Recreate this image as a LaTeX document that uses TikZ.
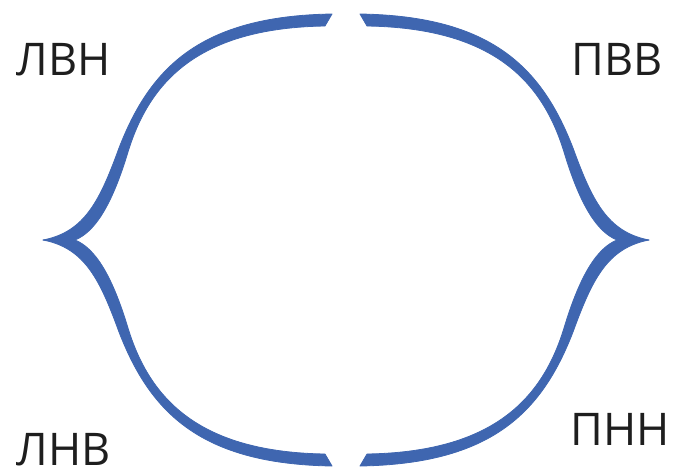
\documentclass[tikz,border=0pt]{standalone}
\usepackage{fontspec}
\setmainfont{Open Sans}
\definecolor{brace}{HTML}{3F66B0}
\definecolor{labeltext}{HTML}{1E1E1E}

\begin{document}
\begin{tikzpicture}[x=1pt, y=1pt,
  piece/.style={fill=brace, draw=brace, line width=0.8pt, line join=round},
  lbl/.style={anchor=base, inner sep=0pt, font=\fontsize{45}{54}\selectfont, text=labeltext},
]
  \useasboundingbox (-346,-235) rectangle (333,240);

  % four quarters of the two braces, mirrored about the centre
  \foreach \sx/\sy in {1/1, -1/1, 1/-1, -1/-1} {
    \begin{scope}[xscale=\sx, yscale=\sy]
      \path[piece] (-303,0) .. controls (-261,8) and (-246,40) .. (-227,92)
        .. controls (-196,172) and (-146,224) .. (-14,226) -- (-21,214)
        .. controls (-146,212) and (-196,160) .. (-218,88)
        .. controls (-234,35) and (-251,8) .. (-271,0) -- cycle;
    \end{scope}
  }

  \node[lbl] (lvn) at (-282.5,165) {ЛВН};
  \node[lbl] (pvv) at (271,165) {ПВВ};
  \node[lbl] (lnv) at (-282.5,-225) {ЛНВ};
  \node[lbl] (pnn) at (274,-205) {ПНН};
\end{tikzpicture}
\end{document}
